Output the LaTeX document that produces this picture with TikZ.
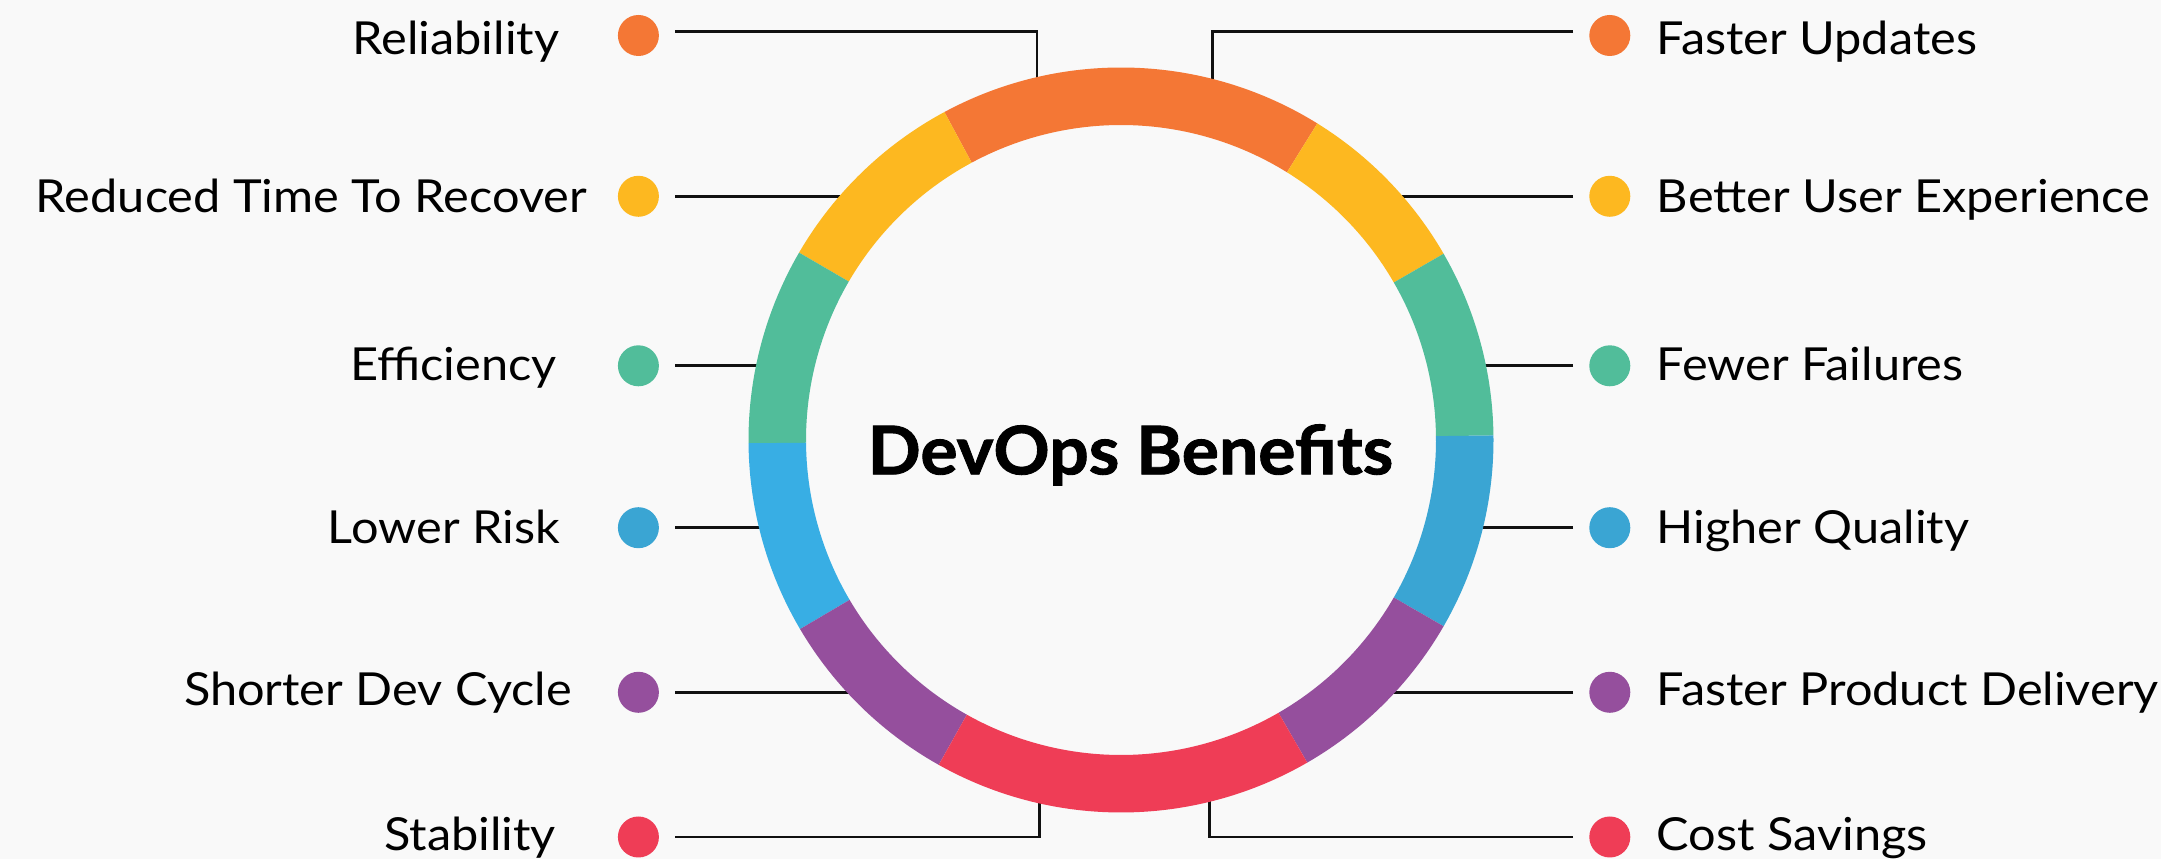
\documentclass[tikz,border=0pt]{standalone}
\usepackage{fontspec}
\setmainfont{Lato}
\newfontfamily\labfont{Lato}[FakeStretch=1.07]
\newfontfamily\titlefont{Lato}[BoldFeatures={FakeBold=1.3}, FakeStretch=1.04]
\definecolor{bg}{HTML}{F9F9F9}
\definecolor{cOrange}{HTML}{F47735}
\definecolor{cYellow}{HTML}{FDB820}
\definecolor{cGreen}{HTML}{51BD9A}
\definecolor{cBlueL}{HTML}{38AEE4}
\definecolor{cBlueR}{HTML}{3AA5D3}
\definecolor{cPurple}{HTML}{954F9D}
\definecolor{cRed}{HTML}{EF3D56}
\definecolor{ink}{HTML}{111111}
\tikzset{
  dot/.style={circle, minimum size=41pt, inner sep=0pt, fill=#1},
  lab/.style={inner sep=0pt, font=\labfont\fontsize{45.5}{50}\selectfont, text=black},
  conn/.style={draw=ink, line width=2.6pt},
  connL/.style={conn, shorten <=16pt},
  connR/.style={conn, shorten <=16pt},
}
\newcommand\ringseg[3]{%
  \fill[#1] (#2:372.5pt) arc[start angle=#2, end angle=#3, radius=372.5pt]
     -- (#3:315pt) arc[start angle=#3, end angle=#2, radius=315pt] -- cycle;}
\begin{document}
\begin{tikzpicture}[x=1pt,y=1pt]
\useasboundingbox (0,0) rectangle (2161,859);
\fill[bg] (0,0) rectangle (2161,859);

% dots
\node[dot=cOrange] (L1) at (638.4,823.5) {};
\node[dot=cYellow] (L2) at (638.4,662.7) {};
\node[dot=cGreen]  (L3) at (638.4,493.2) {};
\node[dot=cBlueR]  (L4) at (638.4,331.3) {};
\node[dot=cPurple] (L5) at (638.4,166.7) {};
\node[dot=cRed]    (L6) at (638.4,22) {};
\node[dot=cOrange] (R1) at (1609.8,823.5) {};
\node[dot=cYellow] (R2) at (1609.8,662.7) {};
\node[dot=cGreen]  (R3) at (1609.8,493.2) {};
\node[dot=cBlueR]  (R4) at (1609.8,331.3) {};
\node[dot=cPurple] (R5) at (1609.8,166.7) {};
\node[dot=cRed]    (R6) at (1609.8,22) {};

% labels
\node[lab, anchor=base east] (tL1) at (559.4,804) {Reliability};
\node[lab, anchor=base east] (tL2) at (587,646.7) {Reduced Time To Recover};
\node[lab, anchor=base east] (tL3) at (557,478) {Efficiency};
\node[lab, anchor=base east] (tL4) at (560,315.5) {Lower Risk};
\node[lab, anchor=base east] (tL5) at (572,153) {Shorter Dev Cycle};
\node[lab, anchor=base east] (tL6) at (556,8.3) {Stability};
\node[lab, anchor=base west] (tR1) at (1656.7,804) {Faster Updates};
\node[lab, anchor=base west] (tR2) at (1656.7,646.7) {Better User Experience};
\node[lab, anchor=base west] (tR3) at (1656.7,478) {Fewer Failures};
\node[lab, anchor=base west] (tR4) at (1656.7,315.5) {Higher Quality};
\node[lab, anchor=base west] (tR5) at (1656.7,153) {Faster Product Delivery};
\node[lab, anchor=base west] (tR6) at (1656.7,8.3) {Cost Savings};

% ring attach points
\coordinate (rL1) at (1037,752.6);
\coordinate (rR1) at (1212.4,750.6);
\coordinate (rL2) at (878.5,662.7);
\coordinate (rR2) at (1363.5,662.7);
\coordinate (rL3) at (785,493.2);
\coordinate (rR3) at (1457,493.2);
\coordinate (rL4) at (788.4,331.3);
\coordinate (rR4) at (1453.6,331.3);
\coordinate (rL5) at (886.8,166.7);
\coordinate (rR5) at (1355,166.7);
\coordinate (rL6) at (1039.3,85);
\coordinate (rR6) at (1209.5,85);

% connectors
\draw[connL] ([yshift=4pt]L1.east) -| (rL1);
\draw[connR] ([yshift=4pt]R1.west) -| (rR1);
\draw[connL] (L2.east) -- (rL2);
\draw[connR] (R2.west) -- (rR2);
\draw[connL] (L3.east) -- (rL3);
\draw[connR] (R3.west) -- (rR3);
\draw[connL] (L4.east) -- (rL4);
\draw[connR] (R4.west) -- (rR4);
\draw[connL] (L5.east) -- (rL5);
\draw[connR] (R5.west) -- (rR5);
\draw[connL] (L6.east) -| (rL6);
\draw[connR] (R6.west) -| (rR6);

% ring
\begin{scope}[shift={(1121,419)}]
\ringseg{cOrange}{58.2}{118.3}
\ringseg{cYellow}{30}{58.2}
\ringseg{cYellow}{118.3}{149.8}
\ringseg{cGreen}{0.7}{30}
\ringseg{cGreen}{149.8}{180.5}
\ringseg{cBlueL}{180.5}{210.5}
\ringseg{cBlueR}{-30}{0.7}
\ringseg{cPurple}{210.5}{240.7}
\ringseg{cPurple}{300}{330}
\ringseg{cRed}{240.7}{300}
\end{scope}

\node[inner sep=0pt, anchor=base, font=\titlefont\bfseries\fontsize{67}{72}\selectfont] (title) at (1130.5,384.7) {DevOps Benefits};
\end{tikzpicture}
\end{document}
